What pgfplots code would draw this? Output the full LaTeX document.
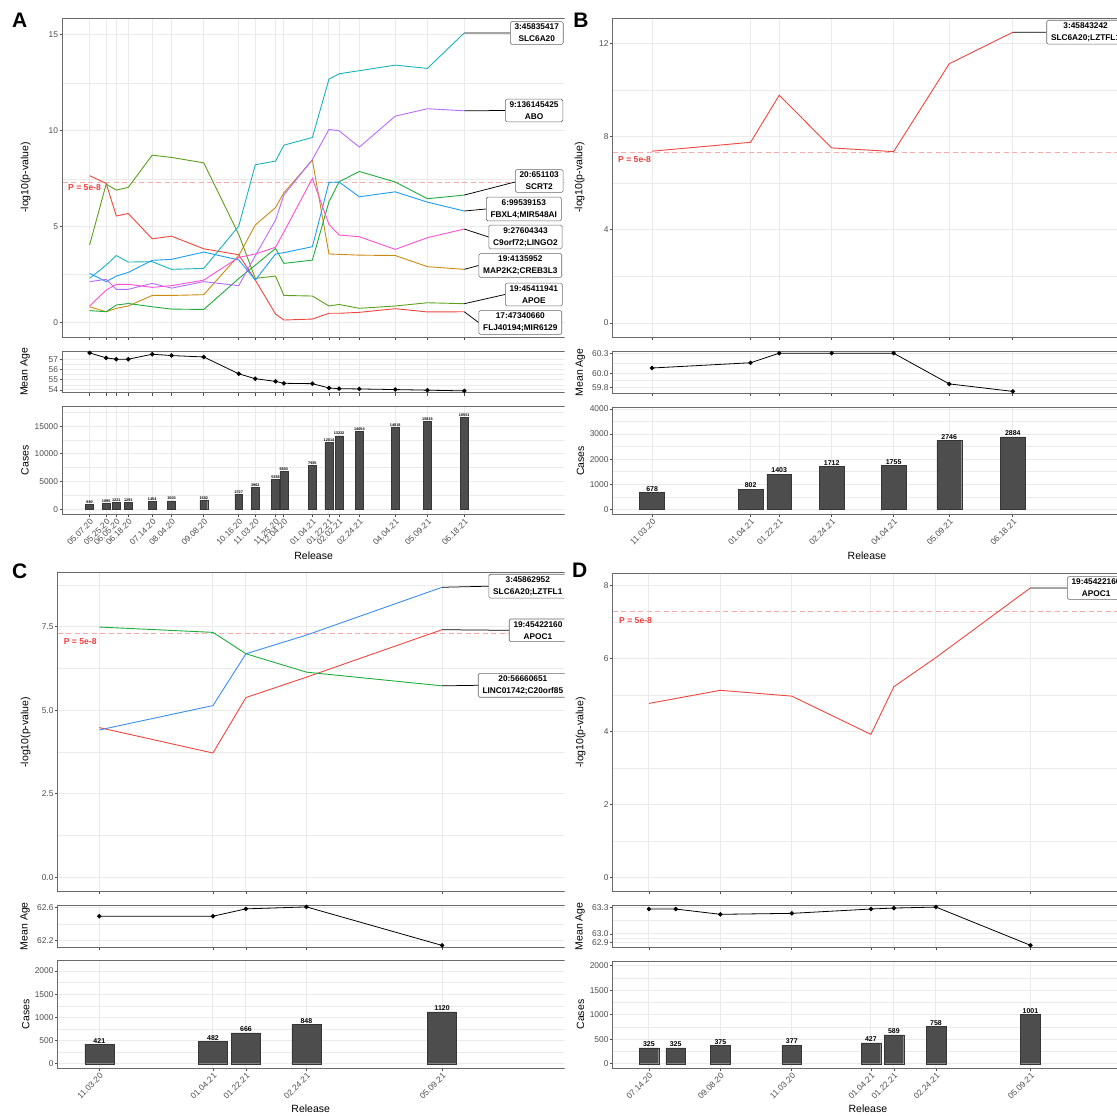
\documentclass[border=0pt]{standalone}
\usepackage{pgfplots}
\usepackage{pgfplotstable}
\pgfplotsset{compat=1.18}
\usepackage{fontspec}
\setmainfont{Liberation Sans}

\definecolor{cRed}{HTML}{F2453D}
\definecolor{cOrange}{HTML}{CC8A14}
\definecolor{cOlive}{HTML}{5D9E1A}
\definecolor{cGreen}{HTML}{1DAE3A}
\definecolor{cTeal}{HTML}{17B4BA}
\definecolor{cBlue}{HTML}{1F9CF7}
\definecolor{cPurple}{HTML}{B86BFF}
\definecolor{cPink}{HTML}{FF4FD2}
\definecolor{c3Green}{HTML}{1DAE3A}
\definecolor{c3Blue}{HTML}{3A8CF5}
\definecolor{gridc}{HTML}{EBEBEB}
\definecolor{framec}{HTML}{6A6A6A}
\definecolor{tickc}{HTML}{4D4D4D}
\definecolor{barc}{HTML}{4D4D4D}
\definecolor{thrc}{HTML}{FFA8A8}
\definecolor{ptxt}{HTML}{F03C3C}
\definecolor{labc}{HTML}{666666}

\newcommand{\tickf}{\fontsize{8.4}{9}\selectfont}
\newcommand{\titf}{\fontsize{10.5}{12}\selectfont}

\pgfplotsset{
  gg/.style={
    scale only axis, anchor=north west,
    axis line style={draw=framec, line width=0.9pt},
    tick align=outside, xtick pos=left, ytick pos=left,
    major tick length=2.75pt, minor tick length=0pt,
    every tick/.style={draw=tickc, line width=0.7pt},
    grid=both,
    major grid style={draw=gridc, line width=1pt},
    minor grid style={draw=gridc, line width=0.5pt},
    ticklabel style={font=\tickf, text=tickc},
    yticklabel style={inner sep=1.5pt},
    xticklabel style={rotate=45, anchor=north east, inner sep=0.8pt},
    scaled y ticks=false, scaled x ticks=false,
  },
  ser/.style={line width=0.9pt, no marks},
  agel/.style={black, line width=0.8pt, mark=*, mark size=1.8pt, mark options={fill=black}},
  bars/.style={ybar, bar shift=0pt, bar width=#1, fill=barc, draw=barc!70!black, line width=0.4pt,
    point meta=explicit symbolic, nodes near coords},
  thr/.style={thrc, dash pattern=on 5pt off 3.5pt, line width=0.8pt},
}
\tikzset{
  lab/.style={draw=labc, line width=0.6pt, rounded corners=1.5pt, fill=white, align=center,
    font=\bfseries\fontsize{8.3}{12.2}\selectfont, inner xsep=4.3pt, inner ysep=2.3pt, anchor=west},
  ptx/.style={text=ptxt, font=\bfseries\fontsize{8.6}{9}\selectfont, anchor=west, inner sep=0pt},
}

\pgfplotstableread{
day teal blue purple pink orange olive green red age cases
0 2.31 2.57 2.14 0.87 0.83 4.05 0.63 7.66 57.65 880
18 3.00 2.14 2.26 1.70 0.57 7.22 0.57 7.26 57.16 1095
29 3.50 2.43 1.74 2.00 0.75 6.91 0.92 5.56 57.03 1221
42 3.16 2.62 1.74 2.00 0.87 7.05 1.00 5.69 57.03 1291
68 3.18 3.25 2.05 1.84 1.42 8.73 0.83 4.37 57.52 1454
89 2.78 3.30 1.80 1.93 1.42 8.61 0.71 4.51 57.39 1503
124 2.83 3.68 2.14 2.22 1.46 8.33 0.69 3.85 57.25 1582
162 5.03 3.27 1.93 3.40 3.50 4.60 2.30 3.54 55.59 2727
180 8.23 2.22 3.49 3.58 5.09 2.31 3.00 2.22 55.10 3962
202 8.42 3.58 5.35 3.93 6.00 2.43 3.87 0.45 54.84 5356
211 9.25 3.65 6.65 4.72 6.77 1.42 3.09 0.14 54.65 6803
242 9.65 3.96 8.50 7.52 8.47 1.39 3.26 0.19 54.61 7935
260 12.69 7.31 10.07 5.12 3.58 0.87 6.30 0.49 54.19 12014
271 12.97 7.33 10.00 4.57 3.56 0.95 7.34 0.49 54.12 13232
293 13.13 6.56 9.15 4.48 3.52 0.75 7.88 0.54 54.09 14054
332 13.42 6.82 10.76 3.82 3.50 0.87 7.33 0.73 54.03 14818
367 13.25 6.28 11.15 4.43 2.92 1.04 6.46 0.56 53.97 15815
407 15.10 5.82 11.04 4.88 2.78 0.99 6.65 0.57 53.90 16551
}\tabA

\pgfplotstableread{
day p age cases
180 7.37 60.083 678
242 7.75 60.16 802
260 9.77 60.30 1403
293 7.51 60.30 1712
332 7.35 60.30 1755
367 11.12 59.85 2746
407 12.47 59.74 2884
}\tabB

\pgfplotstableread{
day blue red green age cases
180 4.41 4.48 7.49 62.494 421
242 5.14 3.72 7.33 62.494 482
260 6.69 5.38 6.69 62.583 666
293 7.25 5.99 6.14 62.607 848
367 8.68 7.41 5.73 62.139 1120
}\tabC

\pgfplotstableread{
day p
68 4.77
124 5.13
180 4.97
242 3.92
260 5.23
293 6.03
367 7.94
}\tabDp

\pgfplotstableread{
day age cases
68 63.281 325
89 63.281 325
124 63.221 375
180 63.232 377
242 63.281 427
260 63.292 589
293 63.303 758
367 62.871 1001
}\tabD

\begin{document}
\begin{tikzpicture}[x=1pt,y=1pt]
\useasboundingbox (0,0) rectangle (1117,-1116);

% ================= Panel A =================
\begin{scope}
\clip (0,0) rectangle (564.5,-560);
\begin{axis}[gg, at={(62.5pt,-18.5pt)}, width=503.5pt, height=318.5pt,
  xmin=-29.44, xmax=517.5, ymin=-0.745, ymax=15.85,
  xtick={0,18,29,42,68,89,124,162,180,202,211,242,260,271,293,332,367,407}, xticklabels={},
  ytick={0,5,10,15}, yticklabels={0,5,10,15}, minor ytick={2.5,7.5,12.5}]
\addplot[thr] coordinates {(-29.44,7.30103) (517.5,7.30103)};
\addplot[ser, cRed] table[x=day,y=red] {\tabA};
\addplot[ser, cOrange] table[x=day,y=orange] {\tabA};
\addplot[ser, cOlive] table[x=day,y=olive] {\tabA};
\addplot[ser, cGreen] table[x=day,y=green] {\tabA};
\addplot[ser, cTeal] table[x=day,y=teal] {\tabA};
\addplot[ser, cBlue] table[x=day,y=blue] {\tabA};
\addplot[ser, cPurple] table[x=day,y=purple] {\tabA};
\addplot[ser, cPink] table[x=day,y=pink] {\tabA};
\coordinate (A1) at (axis cs:407,15.10);
\coordinate (A2) at (axis cs:407,11.04);
\coordinate (A3) at (axis cs:407,6.65);
\coordinate (A4) at (axis cs:407,5.82);
\coordinate (A5) at (axis cs:407,4.88);
\coordinate (A6) at (axis cs:407,2.78);
\coordinate (A7) at (axis cs:407,0.99);
\coordinate (A8) at (axis cs:407,0.57);
\end{axis}
\begin{axis}[gg, at={(62.5pt,-351pt)}, width=503.5pt, height=41.8pt,
  xmin=-29.44, xmax=517.5, ymin=53.71, ymax=57.84,
  xtick={0,18,29,42,68,89,124,162,180,202,211,242,260,271,293,332,367,407}, xticklabels={},
  ytick={54,55,56,57}, yticklabels={54,55,56,57}, minor ytick={54.5,55.5,56.5}]
\addplot[agel] table[x=day,y=age] {\tabA};
\end{axis}
\begin{axis}[gg, at={(62.5pt,-406.5pt)}, width=503.5pt, height=107.8pt,
  xmin=-29.44, xmax=517.5, ymin=-900, ymax=18535,
  xtick={0,18,29,42,68,89,124,162,180,202,211,242,260,271,293,332,367,407},
  xticklabels={05.07.20,05.25.20,06.05.20,06.18.20,07.14.20,08.04.20,09.08.20,10.16.20,11.03.20,11.25.20,12.04.20,01.04.21,01.22.21,02.02.21,02.24.21,04.04.21,05.09.21,06.18.21},
  ytick={0,5000,10000,15000}, yticklabels={0,5000,10000,15000}, minor ytick={2500,7500,12500,17500}]
\addplot[bars=8.6, every node near coord/.style={font=\bfseries\fontsize{3.8}{4}\selectfont, inner sep=0.8pt, anchor=south, text=black}]
  table[x=day,y=cases,meta=cases] {\tabA};
\end{axis}
\draw[black, line width=0.75pt] (A1) -- (510,-33);
\draw[black, line width=0.75pt] (A2) -- (505,-110.5);
\draw[black, line width=0.75pt] (A3) -- (515,-182);
\draw[black, line width=0.75pt] (A4) -- (486,-209);
\draw[black, line width=0.75pt] (A5) -- (488.6,-237);
\draw[black, line width=0.75pt] (A6) -- (478.6,-265.5);
\draw[black, line width=0.75pt] (A7) -- (505,-294.5);
\draw[black, line width=0.75pt] (A8) -- (478.6,-322.5);
\node[lab] at (510,-33) {3:45835417\\SLC6A20};
\node[lab] at (505,-110.5) {9:136145425\\ABO};
\node[lab] at (515,-181) {20:651103\\SCRT2};
\node[lab] at (486,-209) {6:99539153\\FBXL4;MIR548AI};
\node[lab] at (488.6,-237) {9:27604343\\C9orf72;LINGO2};
\node[lab] at (478.6,-265.5) {19:4135952\\MAP2K2;CREB3L3};
\node[lab] at (505,-294.5) {19:45411941\\APOE};
\node[lab] at (478.6,-322.5) {17:47340660\\FLJ40194;MIR6129};
\end{scope}
\node[ptx] at (68,-188) {P = 5e-8};
\node[font=\bfseries\fontsize{21}{21}\selectfont] at (19.6,-20.7) {A};
\node[rotate=90, font=\titf] at (25.7,-177.5) {-log10(p-value)};
\node[rotate=90, font=\titf] at (25,-371.9) {Mean Age};
\node[rotate=90, font=\titf] at (25,-460.4) {Cases};
\node[font=\titf] at (313.6,-556) {Release};

% ================= Panel B =================
\begin{axis}[gg, at={(612.9pt,-18.5pt)}, width=508.1pt, height=318.5pt,
  xmin=155.33, xmax=475.1, ymin=-0.6, ymax=13.06,
  xtick={180,242,260,293,332,367,407}, xticklabels={},
  ytick={0,4,8,12}, yticklabels={0,4,8,12}, minor ytick={2,6,10}]
\addplot[thr] coordinates {(155.33,7.30103) (475.1,7.30103)};
\addplot[ser, cRed] table[x=day,y=p] {\tabB};
\coordinate (B1) at (axis cs:407,12.47);
\end{axis}
\begin{axis}[gg, at={(612.9pt,-351.3pt)}, width=508.1pt, height=42pt,
  xmin=155.33, xmax=475.1, ymin=59.712, ymax=60.328,
  xtick={180,242,260,293,332,367,407}, xticklabels={},
  ytick={59.8,60.0,60.3}, yticklabels={59.8,60.0,60.3}, minor ytick={59.9,60.15}]
\addplot[agel] table[x=day,y=age] {\tabB};
\end{axis}
\begin{axis}[gg, at={(612.9pt,-407.7pt)}, width=508.1pt, height=106.6pt,
  xmin=155.33, xmax=475.1, ymin=-199, ymax=4052,
  xtick={180,242,260,293,332,367,407},
  xticklabels={11.03.20,01.04.21,01.22.21,02.24.21,04.04.21,05.09.21,06.18.21},
  ytick={0,1000,2000,3000,4000}, yticklabels={0,1000,2000,3000,4000}, minor ytick={500,1500,2500,3500}]
\addplot[bars=15.7, every node near coord/.style={font=\bfseries\fontsize{7}{8}\selectfont, inner sep=1pt, anchor=south, text=black}]
  table[x=day,y=cases,meta=cases] {\tabB};
\end{axis}
\draw[black, line width=0.75pt] (B1) -- (1046.4,-32.2);
\node[lab] at (1046.4,-32.2) {3:45843242\\SLC6A20;LZTFL1};
\node[ptx] at (618,-159.3) {P = 5e-8};
\node[font=\bfseries\fontsize{21}{21}\selectfont] at (581,-20.7) {B};
\node[rotate=90, font=\titf] at (579.6,-177.5) {-log10(p-value)};
\node[rotate=90, font=\titf] at (580.4,-372.3) {Mean Age};
\node[rotate=90, font=\titf] at (580.4,-461) {Cases};
\node[font=\titf] at (867,-556) {Release};

% ================= Panel C =================
\begin{scope}
\clip (0,-560) rectangle (564.5,-1116);
\begin{axis}[gg, at={(57.9pt,-572.7pt)}, width=508.1pt, height=319pt,
  xmin=157.41, xmax=434.6, ymin=-0.431, ymax=9.116,
  xtick={180,242,260,293,367}, xticklabels={},
  ytick={0,2.5,5,7.5}, yticklabels={0.0,2.5,5.0,7.5}, minor ytick={1.25,3.75,6.25,8.75}]
\addplot[thr] coordinates {(157.41,7.30103) (434.6,7.30103)};
\addplot[ser, cRed] table[x=day,y=red] {\tabC};
\addplot[ser, c3Green] table[x=day,y=green] {\tabC};
\addplot[ser, c3Blue] table[x=day,y=blue] {\tabC};
\coordinate (C1) at (axis cs:367,8.68);
\coordinate (C2) at (axis cs:367,7.41);
\coordinate (C3) at (axis cs:367,5.73);
\end{axis}
\begin{axis}[gg, at={(57.9pt,-905pt)}, width=508.1pt, height=42.3pt,
  xmin=157.41, xmax=434.6, ymin=62.116, ymax=62.63,
  xtick={180,242,260,293,367}, xticklabels={},
  ytick={62.2,62.6}, yticklabels={62.2,62.6}, minor ytick={62.4}]
\addplot[agel] table[x=day,y=age] {\tabC};
\end{axis}
\begin{axis}[gg, at={(57.9pt,-960.7pt)}, width=508.1pt, height=107.6pt,
  xmin=157.41, xmax=434.6, ymin=-99, ymax=2222,
  xtick={180,242,260,293,367},
  xticklabels={11.03.20,01.04.21,01.22.21,02.24.21,05.09.21},
  ytick={0,500,1000,1500,2000}, yticklabels={0,500,1000,1500,2000}, minor ytick={250,750,1250,1750}]
\addplot[bars=15.8, every node near coord/.style={font=\bfseries\fontsize{7}{8}\selectfont, inner sep=1pt, anchor=south, text=black}]
  table[x=day,y=cases,meta=cases] {\tabC};
\end{axis}
\draw[black, line width=0.75pt] (C1) -- (488.6,-586.2);
\draw[black, line width=0.75pt] (C2) -- (508.9,-630.3);
\draw[black, line width=0.75pt] (C3) -- (477.9,-685.3);
\node[lab] at (488.6,-586.2) {3:45862952\\SLC6A20;LZTFL1};
\node[lab] at (508.9,-630.3) {19:45422160\\APOC1};
\node[lab] at (477.9,-685.3) {20:56660651\\LINC01742;C20orf85};
\end{scope}
\node[ptx] at (63.6,-641.7) {P = 5e-8};
\node[font=\bfseries\fontsize{21}{21}\selectfont] at (19.6,-571.7) {C};
\node[rotate=90, font=\titf] at (25.7,-732.2) {-log10(p-value)};
\node[rotate=90, font=\titf] at (25,-926.2) {Mean Age};
\node[rotate=90, font=\titf] at (25.7,-1014.5) {Cases};
\node[font=\titf] at (310.7,-1109) {Release};

% ================= Panel D =================
\begin{axis}[gg, at={(612.9pt,-573.3pt)}, width=508.1pt, height=318.4pt,
  xmin=39.79, xmax=438.0, ymin=-0.395, ymax=8.34,
  xtick={68,124,180,242,260,293,367}, xticklabels={},
  ytick={0,2,4,6,8}, yticklabels={0,2,4,6,8}, minor ytick={1,3,5,7}]
\addplot[thr] coordinates {(39.79,7.30103) (438.0,7.30103)};
\addplot[ser, cRed] table[x=day,y=p] {\tabDp};
\coordinate (D1) at (axis cs:367,7.94);
\end{axis}
\begin{axis}[gg, at={(612.9pt,-905.3pt)}, width=508.1pt, height=42pt,
  xmin=39.79, xmax=438.0, ymin=62.848, ymax=63.323,
  xtick={68,124,180,242,260,293,367}, xticklabels={},
  ytick={62.9,63.0,63.3}, yticklabels={62.9,63.0,63.3}, minor ytick={62.95,63.15}]
\addplot[agel] table[x=day,y=age] {\tabD};
\end{axis}
\begin{axis}[gg, at={(612.9pt,-961pt)}, width=508.1pt, height=107.3pt,
  xmin=39.79, xmax=438.0, ymin=-94, ymax=2096,
  xtick={68,124,180,242,260,293,367},
  xticklabels={07.14.20,09.08.20,11.03.20,01.04.21,01.22.21,02.24.21,05.09.21},
  ytick={0,500,1000,1500,2000}, yticklabels={0,500,1000,1500,2000}, minor ytick={250,750,1250,1750}]
\addplot[bars=15.4, every node near coord/.style={font=\bfseries\fontsize{7}{8}\selectfont, inner sep=1pt, anchor=south, text=black}]
  table[x=day,y=cases,meta=cases] {\tabD};
\end{axis}
\draw[black, line width=0.75pt] (D1) -- (1067,-588);
\node[lab] at (1067,-588) {19:45422160\\APOC1};
\node[ptx] at (619,-621) {P = 5e-8};
\node[font=\bfseries\fontsize{21}{21}\selectfont] at (579.6,-570.7) {D};
\node[rotate=90, font=\titf] at (580.7,-732.5) {-log10(p-value)};
\node[rotate=90, font=\titf] at (580,-926.3) {Mean Age};
\node[rotate=90, font=\titf] at (580.4,-1014.6) {Cases};
\node[font=\titf] at (867.9,-1109) {Release};
\end{tikzpicture}
\end{document}
